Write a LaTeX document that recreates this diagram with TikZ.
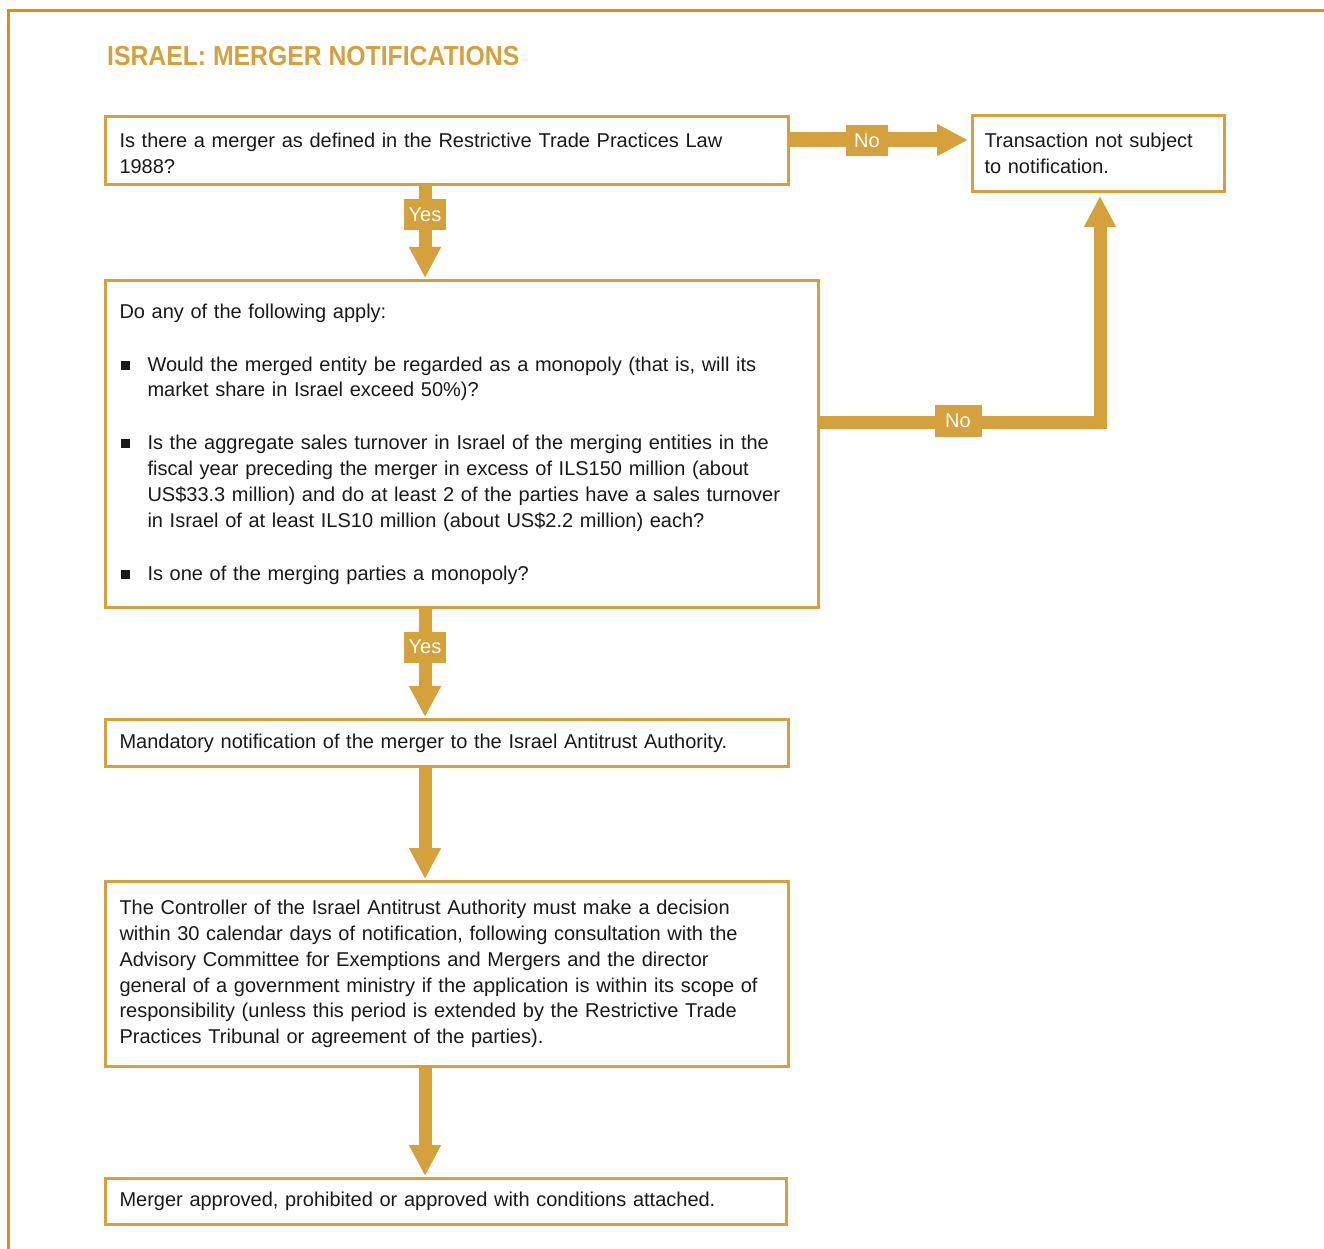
\documentclass[tikz,border=0pt]{standalone}
\usepackage{fontspec}
\setmainfont{Liberation Sans}
\newfontfamily\titlefont{Liberation Sans}[FakeStretch=0.9]
\usetikzlibrary{arrows.meta}
\definecolor{gold}{RGB}{212,161,61}
\definecolor{framec}{RGB}{212,145,20}
\newcommand\bodyfont{\fontsize{20pt}{25.7pt}\selectfont}
\newcommand\bitem[1]{\par\noindent\hangindent=28pt\hangafter=1\makebox[28pt][l]{\hspace{1pt}\raisebox{1.5pt}{\rule{9pt}{9pt}}}#1\par}
\begin{document}
\begin{tikzpicture}[x=1pt,y=-1pt,
  box/.style={draw=gold,line width=3pt,anchor=north west,align=left,inner xsep=14pt,inner ysep=0pt,font=\bodyfont,text=black!90},
  flow/.style={draw=gold,line width=13pt,-{Triangle[width=30pt,length=31pt]}},
  lab/.style={fill=gold,text=white,minimum width=42pt,minimum height=31pt,inner sep=0pt,font=\bodyfont}]
\useasboundingbox (0,0) rectangle (1324,1249);
\draw[framec,line width=3pt] (8.5,1252) -- (8.5,10.5) -- (1326,10.5);
\node[anchor=base west,inner sep=0pt,text=gold,font=\titlefont\bfseries\fontsize{27.5pt}{30pt}\selectfont] (title) at (107,66) {ISRAEL: MERGER NOTIFICATIONS};

\node[box,minimum width=683pt,minimum height=68pt,text width=655pt] (q1) at (104,115)
  {\rule{0pt}{20pt}Is there a merger as defined in the Restrictive Trade Practices Law\\1988?};
\node[box,minimum width=252pt,minimum height=76pt,text width=228pt,inner xsep=12pt] (tr) at (971,114)
  {Transaction not subject\\to notification.};
\node[box,minimum width=713pt,minimum height=327pt,text width=685pt] (q2) at (104,279)
  {Do any of the following apply:\par\vspace{27.3pt}
   \bitem{Would the merged entity be regarded as a monopoly (that is, will its\newline market share in Israel exceed 50\%)?}\vspace{27.3pt}
   \bitem{Is the aggregate sales turnover in Israel of the merging entities in the\newline fiscal year preceding the merger in excess of ILS150 million (about\newline US\$33.3 million) and do at least 2 of the parties have a sales turnover\newline in Israel of at least ILS10 million (about US\$2.2 million) each?}\vspace{27.3pt}
   \bitem{Is one of the merging parties a monopoly?}};
\node[box,minimum width=683pt,minimum height=47pt,text width=655pt] (m3) at (104,718)
  {Mandatory notification of the merger to the Israel Antitrust Authority.};
\node[box,minimum width=683pt,minimum height=185pt,text width=655pt] (c4) at (104,880)
  {The Controller of the Israel Antitrust Authority must make a decision\\within 30 calendar days of notification, following consultation with the\\Advisory Committee for Exemptions and Mergers and the director\\general of a government ministry if the application is within its scope of\\responsibility (unless this period is extended by the Restrictive Trade\\Practices Tribunal or agreement of the parties).};
\node[box,minimum width=681pt,minimum height=46pt,text width=653pt] (r5) at (104,1177)
  {Merger approved, prohibited or approved with conditions attached.};

\coordinate (ax) at (425,0);
\coordinate (ay1) at (0,140);
\coordinate (ax2) at (1100,0);
\coordinate (ay2) at (0,422);

\draw[flow,line width=15pt,shorten >=3pt] (q1.east |- ay1) -- (tr.west |- ay1);
\draw[flow,shorten >=1pt] (q1.south -| ax) -- (q2.north -| ax);
\draw[flow,line join=miter,shorten >=3pt] (q2.east |- ay2) -| (tr.south -| ax2);
\draw[flow,shorten >=1pt] (q2.south -| ax) -- (m3.north -| ax);
\draw[flow,shorten >=1pt] (m3.south -| ax) -- (c4.north -| ax);
\draw[flow,shorten >=1pt] (c4.south -| ax) -- (r5.north -| ax);

\node[lab] (no1) at (867,141) {No};
\node[lab] (yes1) at (425,215) {Yes};
\node[lab,minimum width=47pt,minimum height=32pt] (no2) at (958,421) {No};
\node[lab] (yes2) at (425,647) {Yes};
\end{tikzpicture}
\end{document}
